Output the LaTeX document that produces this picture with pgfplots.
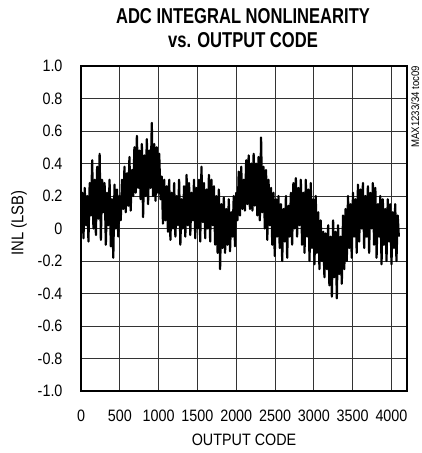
\documentclass[border=0pt]{standalone}
\usepackage{fontspec}
\setmainfont{Liberation Sans}[FakeStretch=0.87]
\newfontfamily\titlefont{Liberation Sans}[FakeStretch=0.77]
\usepackage{pgfplots}
\pgfplotsset{compat=1.18}
\begin{document}
\begin{tikzpicture}[x=1bp,y=1bp]
\path[use as bounding box] (-81,-62) rectangle (340,391);
\begin{axis}[
  at={(0,0)}, anchor=south west,
  scale only axis, width=326bp, height=325bp,
  xmin=0, xmax=4200, ymin=-1, ymax=1,
  xtick={0,500,...,4000},
  xticklabels={0,500,1000,1500,2000,2500,3000,3500,4000},
  ytick={-1,-0.8,...,1.01},
  yticklabels={-1.0,-0.8,-0.6,-0.4,-0.2,0,0.2,0.4,0.6,0.8,1.0},
  major tick length=0pt,
  grid=major,
  major grid style={black!80, line width=0.8bp},
  axis line style={black, line width=2.2bp},
  tick label style={font=\fontsize{16.5bp}{19bp}\selectfont},
  xticklabel style={yshift=-15bp},
  yticklabel style={xshift=-15bp},
]
\addplot[black, line width=2.2bp, line join=round] coordinates {
(0,0.05)(16,0.22)(32,-0.06)(48,0.25)(64,0.02)(80,0.20)(96,-0.08)(112,0.28)(128,0.08)(144,0.42)
(160,0.00)(176,0.30)(192,-0.04)(208,0.38)(224,0.06)(240,0.46)(256,-0.07)(272,0.30)(288,0.10)(304,0.28)
(320,-0.10)(336,0.22)(352,0.02)(368,0.30)(384,-0.11)(400,0.18)(416,-0.18)(432,0.27)(448,0.00)(464,0.24)
(480,-0.05)(496,0.20)(512,0.05)(528,0.30)(544,0.12)(560,0.38)(576,0.10)(592,0.34)(608,0.14)(624,0.44)
(640,0.11)(656,0.36)(672,0.20)(688,0.50)(704,0.22)(720,0.57)(736,0.25)(752,0.48)(768,0.18)(784,0.52)
(800,0.07)(816,0.45)(832,0.20)(848,0.55)(864,0.15)(880,0.48)(896,0.25)(912,0.65)(928,0.20)(944,0.52)
(960,0.17)(976,0.50)(992,0.22)(1008,0.46)(1024,0.18)(1040,0.32)(1056,0.03)(1072,0.30)(1088,0.05)(1104,0.26)
(1120,-0.02)(1136,0.30)(1152,-0.07)(1168,0.22)(1184,0.00)(1200,0.28)(1216,-0.05)(1232,0.20)(1248,0.02)(1264,0.30)
(1280,-0.10)(1296,0.18)(1312,0.00)(1328,0.26)(1344,-0.05)(1360,0.33)(1376,0.02)(1392,0.28)(1408,-0.04)(1424,0.22)
(1440,0.05)(1456,0.30)(1472,-0.06)(1488,0.25)(1504,0.00)(1520,0.30)(1536,-0.08)(1552,0.38)(1568,0.04)(1584,0.28)
(1600,-0.06)(1616,0.24)(1632,0.00)(1648,0.33)(1664,-0.08)(1680,0.30)(1696,0.02)(1712,0.26)(1728,-0.10)(1744,0.20)
(1760,-0.15)(1776,0.24)(1792,-0.25)(1808,0.15)(1824,-0.12)(1840,0.19)(1856,-0.15)(1872,0.12)(1888,-0.10)(1904,0.18)
(1920,-0.14)(1936,0.10)(1952,-0.05)(1968,0.20)(1984,-0.11)(2000,0.22)(2016,0.05)(2032,0.35)(2048,0.08)(2064,0.38)
(2080,0.12)(2096,0.30)(2112,0.11)(2128,0.42)(2144,0.15)(2160,0.45)(2176,0.12)(2192,0.40)(2208,0.11)(2224,0.46)
(2240,0.14)(2256,0.40)(2272,0.08)(2288,0.44)(2304,0.05)(2320,0.56)(2336,0.10)(2352,0.38)(2368,0.00)(2384,0.36)
(2400,-0.07)(2416,0.30)(2432,0.02)(2448,0.25)(2464,-0.10)(2480,0.22)(2496,-0.17)(2512,0.18)(2528,-0.05)(2544,0.20)
(2560,-0.12)(2576,0.15)(2592,-0.20)(2608,0.12)(2624,-0.08)(2640,0.20)(2656,-0.18)(2672,0.14)(2688,-0.05)(2704,0.22)
(2720,-0.10)(2736,0.28)(2752,0.00)(2768,0.31)(2784,-0.05)(2800,0.25)(2816,0.02)(2832,0.30)(2848,-0.10)(2864,0.22)
(2880,-0.15)(2896,0.30)(2912,-0.05)(2928,0.24)(2944,-0.20)(2960,0.28)(2976,-0.12)(2992,0.18)(3008,-0.22)(3024,0.20)
(3040,-0.15)(3056,0.10)(3072,-0.25)(3088,0.05)(3104,-0.20)(3120,-0.02)(3136,-0.30)(3152,-0.03)(3168,-0.25)(3184,0.02)
(3200,-0.35)(3216,-0.05)(3232,-0.42)(3248,0.05)(3264,-0.30)(3280,-0.02)(3296,-0.43)(3312,0.02)(3328,-0.28)(3344,-0.05)
(3360,-0.34)(3376,0.08)(3392,-0.25)(3408,0.12)(3424,-0.20)(3440,0.20)(3456,-0.12)(3472,0.15)(3488,-0.18)(3504,0.22)
(3520,-0.05)(3536,0.18)(3552,-0.15)(3568,0.27)(3584,-0.08)(3600,0.24)(3616,0.00)(3632,0.28)(3648,-0.12)(3664,0.20)
(3680,-0.05)(3696,0.26)(3712,-0.15)(3728,0.22)(3744,0.00)(3760,0.28)(3776,-0.10)(3792,0.25)(3808,-0.18)(3824,0.15)
(3840,-0.05)(3856,0.20)(3872,-0.22)(3888,0.18)(3904,-0.10)(3920,0.12)(3936,-0.20)(3952,0.18)(3968,-0.08)(3984,0.15)
(4000,-0.22)(4016,0.10)(4032,-0.12)(4048,0.15)(4064,-0.20)(4080,0.08)(4095,-0.05)
};
\end{axis}
\node[font=\titlefont\bfseries\fontsize{21.5bp}{23bp}\selectfont] at (162,375) {ADC INTEGRAL NONLINEARITY};
\node[font=\titlefont\bfseries\fontsize{21.5bp}{23bp}\selectfont] at (162,351) {vs. OUTPUT CODE};
\node[font=\fontsize{16.5bp}{19bp}\selectfont] at (163,-49) {OUTPUT CODE};
\node[font=\fontsize{17bp}{19bp}\selectfont, rotate=90] at (-62,168) {INL (LSB)};
\node[font=\fontsize{11bp}{12bp}\selectfont, rotate=90, anchor=north east, inner sep=0pt] at (330,325) {MAX1233/34 toc09};
\end{tikzpicture}
\end{document}
